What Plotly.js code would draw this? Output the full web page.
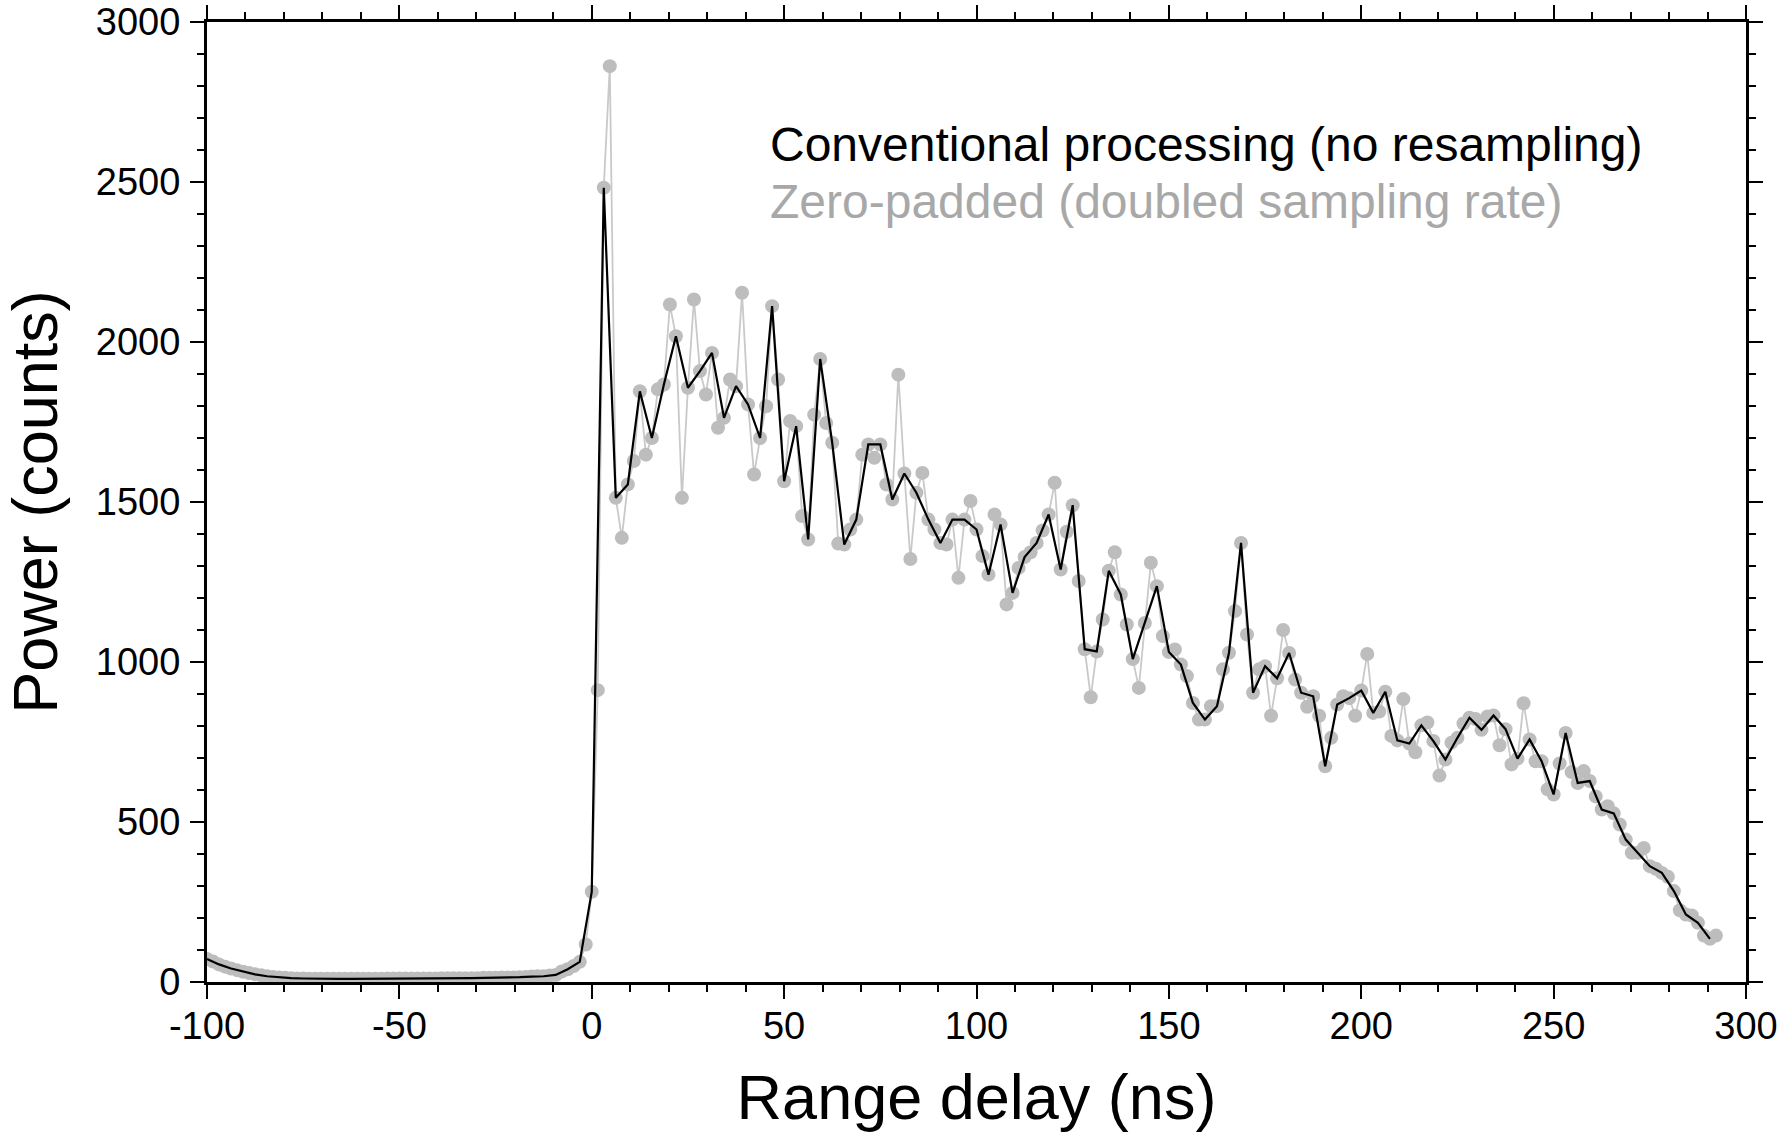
<!DOCTYPE html>
<html>
<head>
<meta charset="utf-8">
<script src="https://cdn.plot.ly/plotly-3.0.1.min.js"></script>
<style>
  html, body { margin: 0; padding: 0; background: #ffffff; }
  #chart { width: 1791px; height: 1133px; }
</style>
</head>
<body>
<div id="chart"></div>
<script>
// Sampling grid of the conventional (no resampling) series, in ns
const sampleStartNs = -100;
const sampleStepNs = 3.125;

// Conventional processing (no resampling): power in counts, one value per sample
const conventionalPower = [
  72, 55, 42, 32, 24, 18, 14, 12, 11, 10, 10, 10, 10, 10, 10, 11,
  11, 11, 11, 11, 12, 12, 12, 13, 13, 14, 15, 17, 18, 22, 40, 63,
  282, 2482, 1513, 1555, 1846, 1700, 1867, 2018, 1857, 1909, 1966, 1763, 1862, 1805, 1700, 2112,
  1565, 1737, 1383, 1947, 1685, 1367, 1445, 1680, 1680, 1508, 1589, 1529, 1445, 1372, 1445, 1445,
  1414, 1273, 1430, 1216, 1328, 1372, 1461, 1289, 1490, 1040, 1033, 1285, 1211, 1009, 1122, 1237,
  1031, 992, 872, 820, 862, 1029, 1372, 904, 987, 949, 1028, 904, 893, 674, 867, 887,
  911, 841, 907, 755, 745, 802, 753, 695, 763, 826, 788, 833, 790, 698, 758, 690,
  586, 778, 622, 628, 539, 527, 445, 404, 362, 341, 284, 211, 185, 135
];

// Zero-padded (doubled sampling rate): the extra in-between samples,
// one after each conventional sample
const zeroPaddedMidPower = [
  64, 48, 37, 28, 21, 16, 13, 11, 10, 10, 10, 10, 10, 10, 10, 11,
  11, 11, 11, 12, 12, 12, 12, 13, 14, 14, 16, 18, 20, 33, 50, 117,
  912, 2862, 1388, 1628, 1648, 1852, 2117, 1513, 2133, 1836, 1732, 1883, 2154, 1586, 1799, 1883,
  1753, 1456, 1773, 1747, 1370, 1414, 1648, 1638, 1555, 1898, 1322, 1591, 1414, 1367, 1263, 1503,
  1331, 1461, 1180, 1294, 1343, 1411, 1560, 1407, 1253, 890, 1133, 1343, 1117, 919, 1310, 1081,
  1039, 956, 820, 862, 977, 1159, 1086, 977, 832, 1100, 945, 860, 832, 763, 893, 832,
  1025, 845, 769, 884, 718, 811, 645, 748, 808, 822, 830, 740, 680, 871, 690, 602,
  683, 656, 659, 580, 549, 492, 404, 419, 354, 329, 224, 208, 145, 145
];

// Axis tick values and labels (labels use a plain hyphen as in the original)
const xTickVals = [-100, -50, 0, 50, 100, 150, 200, 250, 300];
const xTickText = ["-100", "-50", "0", "50", "100", "150", "200", "250", "300"];
const yTickVals = [0, 500, 1000, 1500, 2000, 2500, 3000];
const yTickText = ["0", "500", "1000", "1500", "2000", "2500", "3000"];

const legendLabels = [
  "Conventional processing (no resampling)",
  "Zero-padded (doubled sampling rate)"
];
const xTitle = "Range delay (ns)";
const yTitle = "Power (counts)";

// Build traces from the arrays
const convX = conventionalPower.map((_, i) => sampleStartNs + i * sampleStepNs);
const zpX = [], zpY = [];
conventionalPower.forEach((v, i) => {
  zpX.push(sampleStartNs + i * sampleStepNs);
  zpY.push(v);
  zpX.push(sampleStartNs + (i + 0.5) * sampleStepNs);
  zpY.push(zeroPaddedMidPower[i]);
});

const FONT = "Liberation Sans, Arial, Helvetica, sans-serif";

const traces = [
  {
    x: zpX, y: zpY, type: "scatter", mode: "lines+markers",
    line: { color: "#c9c9c9", width: 1.8 },
    marker: { color: "#bdbdbd", size: 14, line: { width: 0 } },
    hoverinfo: "skip", showlegend: false
  },
  {
    x: convX, y: conventionalPower, type: "scatter", mode: "lines",
    line: { color: "#000000", width: 2.2 },
    hoverinfo: "skip", showlegend: false
  }
];

const axisCommon = {
  showline: true, linecolor: "#000000", linewidth: 3,
  mirror: "ticks", ticks: "outside", ticklen: 14, tickwidth: 2, tickcolor: "#000000",
  showgrid: false, zeroline: false, tickmode: "array",
  tickfont: { family: FONT, size: 38, color: "#000000" }
};

const layout = {
  width: 1791, height: 1133,
  paper_bgcolor: "#ffffff", plot_bgcolor: "#ffffff",
  margin: { l: 207, r: 45, t: 22, b: 151 },
  showlegend: false,
  xaxis: Object.assign({}, axisCommon, {
    range: [-100, 300], tickvals: xTickVals, ticktext: xTickText,
    ticklabelstandoff: -6,
    minor: { tickmode: "linear", tick0: -100, dtick: 10, ticks: "outside", ticklen: 7, tickwidth: 2, tickcolor: "#000000", showgrid: false },
    title: { text: xTitle, font: { family: FONT, size: 63, color: "#000000" }, standoff: 30 }
  }),
  yaxis: Object.assign({}, axisCommon, {
    range: [0, 3000], tickvals: yTickVals, ticktext: yTickText,
    ticklabelstandoff: 2,
    minor: { tickmode: "linear", tick0: 0, dtick: 100, ticks: "outside", ticklen: 7, tickwidth: 2, tickcolor: "#000000", showgrid: false },
    title: { text: yTitle, font: { family: FONT, size: 63, color: "#000000" }, standoff: 22 }
  }),
  annotations: [
    {
      xref: "paper", yref: "paper", x: 0.3645, y: 0.8724, xanchor: "left", yanchor: "middle",
      text: legendLabels[0], showarrow: false,
      font: { family: FONT, size: 48, color: "#000000" }
    },
    {
      xref: "paper", yref: "paper", x: 0.3645, y: 0.813, xanchor: "left", yanchor: "middle",
      text: legendLabels[1], showarrow: false,
      font: { family: FONT, size: 48, color: "#a8a8a8" }
    }
  ]
};

Plotly.newPlot("chart", traces, layout, { displayModeBar: false, staticPlot: true });
</script>
</body>
</html>
